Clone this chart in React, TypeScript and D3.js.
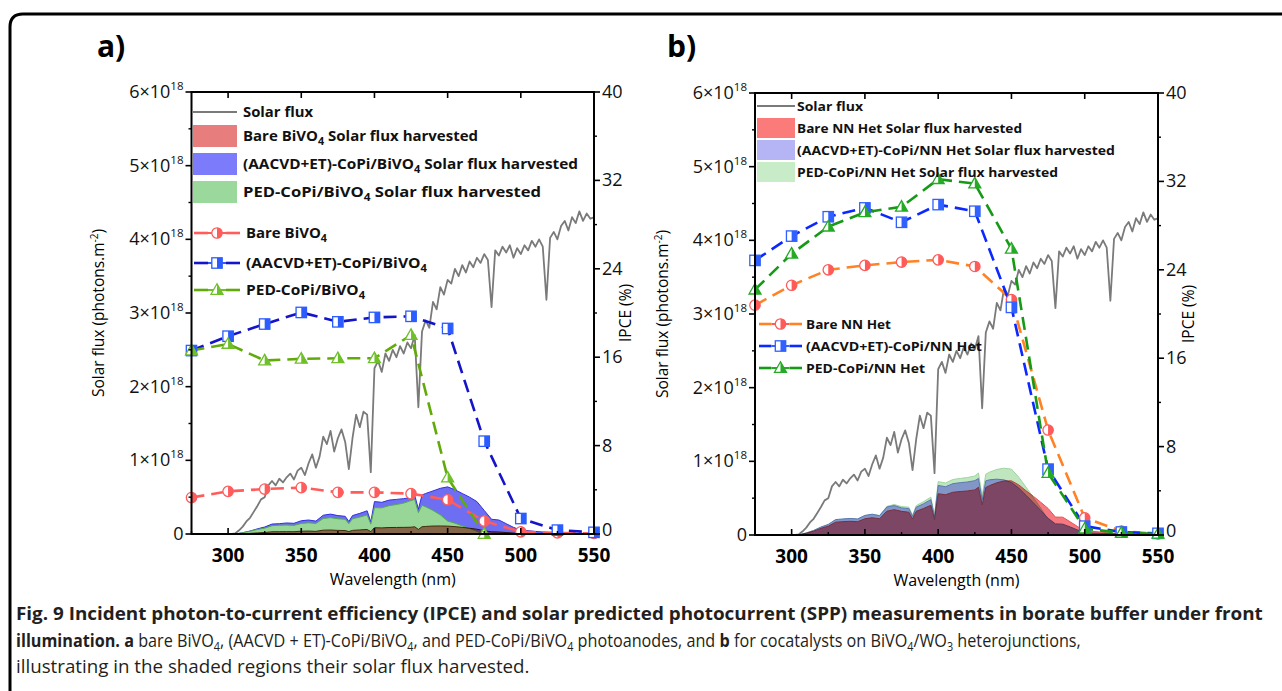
import React, { useLayoutEffect, useRef, useState } from "react";
import * as d3 from "d3";

type Pt = [number, number];

// ---------- DATA ----------
// Solar flux (x1e18 photons m^-2), sampled every 2.5 nm from 275 to 550 nm
const FLUX_START = 275;
const FLUX_STEP = 2.5;
const SOLAR_FLUX = [
  0, 0, 0, 0, 0, 0, 0, 0, 0, 0, 0, 0, 0.01, 0.05, 0.1, 0.17, 0.22, 0.3, 0.38, 0.47,
  0.5, 0.66, 0.72, 0.66, 0.75, 0.7, 0.77, 0.82, 0.74, 0.86, 0.9, 0.8, 0.96, 1.08, 0.9, 1.05,
  1.32, 1.22, 1.4, 1.12, 1.3, 1.42, 1.25, 0.88, 1.3, 1.62, 1.45, 1.66, 1.62, 0.84, 2.25, 2.35,
  2.2, 2.45, 2.35, 2.5, 2.4, 2.55, 2.45, 2.6, 2.52, 2.7, 1.72, 2.75, 2.9, 2.8, 3.15, 3.05,
  3.35, 3.25, 3.45, 3.4, 3.6, 3.5, 3.65, 3.55, 3.7, 3.62, 3.75, 3.68, 3.8, 3.72, 3.08, 3.85,
  3.78, 3.9, 3.82, 3.92, 3.75, 3.88, 3.8, 3.92, 3.85, 3.98, 3.9, 4.0, 3.9, 3.18, 4.02, 4.1,
  4.0, 4.18, 4.25, 4.12, 4.3, 4.22, 4.38, 4.25, 4.35, 4.28, 4.3,
];

// IPCE (%) measured points
const IPCE_WL = [275, 300, 325, 350, 375, 400, 425, 450, 475, 500, 525, 550];
const A_BARE = [3.3, 3.86, 4.07, 4.2, 3.77, 3.77, 3.65, 3.1, 1.17, 0.2, 0.1, 0.05];
const A_AACVD = [16.6, 17.9, 19.0, 20.05, 19.2, 19.6, 19.7, 18.6, 8.4, 1.4, 0.35, 0.15];
const A_PED = [16.6, 17.2, 15.7, 15.85, 15.9, 15.9, 18.0, 5.1, 0.0];
const B_BARE = [20.8, 22.6, 24.0, 24.4, 24.7, 24.9, 24.3, 21.3, 9.5, 1.55, 0.36, 0.1];
const B_AACVD = [24.85, 27.05, 28.8, 29.6, 28.3, 29.9, 29.3, 20.6, 5.96, 0.8, 0.27, 0.15];
const B_PED = [22.2, 25.45, 27.9, 29.2, 29.7, 32.2, 31.8, 25.9, 5.6, 0.57, 0.2, 0.1];

// Solar flux harvested (x1e18), [wavelength, value]
const A_HARV_AACVD: Pt[] = [
  [305, 0], [310, 0.018], [315, 0.04], [320, 0.07], [325, 0.095], [330, 0.135], [335, 0.14],
  [340, 0.15], [345, 0.145], [350, 0.18], [355, 0.19], [360, 0.175], [365, 0.255], [370, 0.27],
  [375, 0.25], [380, 0.24], [382.5, 0.17], [385, 0.25], [390, 0.28], [395, 0.315], [397.5, 0.165],
  [400, 0.44], [405, 0.43], [410, 0.46], [415, 0.47], [420, 0.48], [425, 0.495], [427.5, 0.53],
  [430, 0.335], [432.5, 0.53], [435, 0.55], [440, 0.585], [445, 0.62], [450, 0.64], [455, 0.6],
  [460, 0.55], [465, 0.5], [470, 0.44], [475, 0.32], [480, 0.2], [485, 0.19], [490, 0.14],
  [495, 0.09], [500, 0.053], [505, 0.045], [510, 0.035], [520, 0.02], [530, 0.012], [540, 0.006], [550, 0.004],
];
const A_HARV_PED: Pt[] = [
  [305, 0], [310, 0.017], [315, 0.037], [320, 0.062], [325, 0.079], [330, 0.113], [335, 0.118],
  [340, 0.121], [345, 0.117], [350, 0.143], [355, 0.152], [360, 0.143], [365, 0.21], [370, 0.222],
  [375, 0.207], [380, 0.2], [382.5, 0.14], [385, 0.207], [390, 0.23], [395, 0.258], [397.5, 0.134],
  [400, 0.358], [405, 0.355], [410, 0.385], [415, 0.4], [420, 0.42], [425, 0.454], [427.5, 0.47],
  [430, 0.29], [432.5, 0.39], [435, 0.37], [440, 0.32], [445, 0.26], [450, 0.176], [455, 0.147],
  [460, 0.11], [465, 0.075], [470, 0.038], [473, 0.01], [475, 0],
];
const A_HARV_BARE: Pt[] = [
  [305, 0], [310, 0.004], [315, 0.0085], [320, 0.015], [325, 0.02], [330, 0.03], [335, 0.031],
  [340, 0.032], [345, 0.031], [350, 0.038], [355, 0.04], [360, 0.036], [365, 0.052], [370, 0.054],
  [375, 0.049], [380, 0.047], [382.5, 0.033], [385, 0.049], [390, 0.055], [395, 0.061], [397.5, 0.032],
  [400, 0.085], [405, 0.083], [410, 0.088], [415, 0.089], [420, 0.09], [425, 0.092], [427.5, 0.098],
  [430, 0.062], [432.5, 0.098], [435, 0.103], [440, 0.108], [445, 0.109], [450, 0.107], [455, 0.1],
  [460, 0.09], [465, 0.078], [470, 0.065], [475, 0.044], [480, 0.03], [485, 0.027], [490, 0.02],
  [495, 0.013], [500, 0.008], [510, 0.004], [520, 0.002], [530, 0],
];
const B_HARV_PED: Pt[] = [
  [305, 0.003], [310, 0.026], [315, 0.059], [320, 0.104], [325, 0.14], [330, 0.203], [335, 0.213],
  [340, 0.221], [345, 0.214], [350, 0.263], [355, 0.281], [360, 0.265], [365, 0.389], [370, 0.414],
  [375, 0.386], [380, 0.378], [382.5, 0.268], [385, 0.399], [390, 0.452], [395, 0.514], [397.5, 0.268],
  [400, 0.725], [405, 0.706], [410, 0.753], [415, 0.768], [420, 0.78], [425, 0.801], [427.5, 0.842],
  [430, 0.527], [432.5, 0.825], [435, 0.853], [440, 0.89], [445, 0.907], [450, 0.894], [455, 0.785],
  [460, 0.648], [465, 0.506], [470, 0.363], [475, 0.213], [480, 0.142], [485, 0.135], [490, 0.099],
  [495, 0.059], [500, 0.022], [510, 0.016], [525, 0.008], [550, 0.004],
];
const B_HARV_AACVD: Pt[] = [
  [305, 0.003], [310, 0.028], [315, 0.062], [320, 0.108], [325, 0.144], [330, 0.209], [335, 0.218],
  [340, 0.225], [345, 0.218], [350, 0.266], [355, 0.282], [360, 0.262], [365, 0.38], [370, 0.4],
  [375, 0.368], [380, 0.358], [382.5, 0.253], [385, 0.376], [390, 0.424], [395, 0.48], [397.5, 0.25],
  [400, 0.673], [405, 0.655], [410, 0.697], [415, 0.71], [420, 0.72], [425, 0.738], [427.5, 0.767],
  [430, 0.474], [432.5, 0.735], [435, 0.749], [440, 0.758], [445, 0.748], [450, 0.711], [455, 0.636],
  [460, 0.538], [465, 0.437], [470, 0.333], [475, 0.226], [480, 0.151], [485, 0.147], [490, 0.11],
  [495, 0.069], [500, 0.03], [510, 0.023], [520, 0.015], [530, 0.011], [550, 0.006],
];
const B_HARV_BARE: Pt[] = [
  [305, 0.002], [310, 0.023], [315, 0.051], [320, 0.09], [325, 0.12], [330, 0.173], [335, 0.181],
  [340, 0.186], [345, 0.18], [350, 0.22], [355, 0.234], [360, 0.22], [365, 0.323], [370, 0.344],
  [375, 0.321], [380, 0.309], [382.5, 0.217], [385, 0.321], [390, 0.36], [395, 0.403], [397.5, 0.209],
  [400, 0.56], [405, 0.546], [410, 0.58], [415, 0.59], [420, 0.598], [425, 0.612], [427.5, 0.648],
  [430, 0.408], [432.5, 0.644], [435, 0.67], [440, 0.709], [445, 0.734], [450, 0.735], [455, 0.68],
  [460, 0.6], [465, 0.525], [470, 0.444], [475, 0.361], [480, 0.243], [485, 0.242], [490, 0.18],
  [495, 0.116], [500, 0.059], [505, 0.05], [510, 0.042], [515, 0.032], [520, 0.024], [525, 0.014],
  [535, 0.011], [550, 0.004],
];

// Axis ticks
const X_MAJOR = [300, 350, 400, 450, 500, 550];
const X_MINOR = [275, 325, 375, 425, 475, 525];
const YL_MAJOR = [0, 1, 2, 3, 4, 5, 6];
const YL_MINOR = [0.5, 1.5, 2.5, 3.5, 4.5, 5.5];
const YR_MAJOR = [0, 8, 16, 24, 32, 40];
const YR_MINOR = [4, 12, 20, 28, 36];

// Legend labels ("_4" = subscript 4)
const A_AREA_LABELS = [
  "Bare BiVO_4 Solar flux harvested",
  "(AACVD+ET)-CoPi/BiVO_4 Solar flux harvested",
  "PED-CoPi/BiVO_4 Solar flux harvested",
];
const A_LINE_LABELS = ["Bare BiVO_4", "(AACVD+ET)-CoPi/BiVO_4", "PED-CoPi/BiVO_4"];
const B_AREA_LABELS = [
  "Bare NN Het Solar flux harvested",
  "(AACVD+ET)-CoPi/NN Het Solar flux harvested",
  "PED-CoPi/NN Het Solar flux harvested",
];
const B_LINE_LABELS = ["Bare NN Het", "(AACVD+ET)-CoPi/NN Het", "PED-CoPi/NN Het"];

// ---------- HELPERS ----------
const AXIS_FONT = "'Open Sans', 'Noto Sans', sans-serif";

function Rich({ text, sub = 4 }: { text: string; sub?: number }) {
  const parts = text.split(/_(\d)/);
  return (
    <>
      {parts.map((p, i) =>
        i % 2 === 1 ? (
          <tspan key={i} dy={sub} fontSize="72%">
            {p}
          </tspan>
        ) : (
          <tspan key={i} dy={i > 0 ? -sub : 0}>
            {p}
          </tspan>
        )
      )}
    </>
  );
}

// Text horizontally scaled to a target width (measured after layout)
function FitText({ x, y, width, children, ...rest }: any) {
  const ref = useRef<SVGTextElement>(null);
  const [s, setS] = useState(1);
  useLayoutEffect(() => {
    if (ref.current) {
      const w = ref.current.getBBox().width;
      if (w > 0) setS(width / w);
    }
  }, [width]);
  return (
    <text ref={ref} transform={`translate(${x},${y}) scale(${s},1)`} x={0} y={0} {...rest}>
      {children}
    </text>
  );
}

function Marker({ kind, x, y, color }: { kind: string; x: number; y: number; color: string }) {
  const s = 5.2;
  if (kind === "circle") {
    return (
      <g>
        <circle cx={x} cy={y} r={s} fill="#fff" stroke={color} strokeWidth={1.3} />
        <path d={`M${x},${y - s}A${s},${s} 0 0 1 ${x},${y + s}Z`} fill={color} />
      </g>
    );
  }
  if (kind === "square") {
    return (
      <g>
        <rect x={x - s} y={y - s} width={2 * s} height={2 * s} fill="#fff" stroke={color} strokeWidth={1.3} />
        <rect x={x} y={y - s} width={s} height={2 * s} fill={color} />
      </g>
    );
  }
  const top = y - 6.2;
  const bot = y + 4.3;
  const hw = 6;
  return (
    <g>
      <path d={`M${x},${top}L${x + hw},${bot}L${x - hw},${bot}Z`} fill="#fff" stroke={color} strokeWidth={1.3} />
      <path d={`M${x},${top}L${x + hw},${bot}L${x},${bot}Z`} fill={color} />
    </g>
  );
}

interface Series {
  vals: number[];
  line: string;
  mark: string;
  kind: string;
}
interface AreaS {
  pts: Pt[];
  fill: string;
  stroke: string;
  blend?: boolean;
}
interface PanelCfg {
  x0: number;
  x1: number;
  yTop: number;
  yBot: number;
  label: string;
  labelX: number;
  areas: AreaS[];
  series: Series[];
  legendSwatch: string[];
  areaLabels: string[];
  lineLabels: string[];
  legFont: number;
  leg: {
    fluxY: number;
    swX: number;
    swW: number;
    txtX: number;
    fluxLen: number;
    areaY: number[];
    areaH: number;
    areaLen: number[];
    lineY: number[];
    lineSwX: number;
    lineSwW: number;
    lineTxtX: number;
    lineLen: number[];
  };
  yTitleX: number;
  rTitleX: number;
}

function Panel({ c }: { c: PanelCfg }) {
  const x = d3.scaleLinear().domain([275, 550]).range([c.x0, c.x1]);
  const yL = d3.scaleLinear().domain([0, 6]).range([c.yBot, c.yTop]);
  const yR = d3.scaleLinear().domain([0, 40]).range([c.yBot, c.yTop]);
  const area = d3
    .area<Pt>()
    .x((d) => x(d[0]))
    .y0(yL(0))
    .y1((d) => yL(d[1]));
  const topLine = d3
    .line<Pt>()
    .x((d) => x(d[0]))
    .y((d) => yL(d[1]));
  const fluxPts: Pt[] = SOLAR_FLUX.map((v, i) => [FLUX_START + FLUX_STEP * i, v]);
  const ipceLine = d3
    .line<Pt>()
    .x((d) => x(d[0]))
    .y((d) => yR(d[1]));
  const clipId = "clip-" + c.label.replace(")", "");
  const L = c.leg;
  const midY = (c.yTop + c.yBot) / 2;

  return (
    <g>
      <defs>
        <clipPath id={clipId}>
          <rect x={c.x0} y={c.yTop} width={c.x1 - c.x0} height={c.yBot - c.yTop} />
        </clipPath>
      </defs>
      <text x={c.labelX} y={57} fontFamily={AXIS_FONT} fontWeight={700} fontSize={30}>
        {c.label}
      </text>

      <g clipPath={`url(#${clipId})`}>
        {c.areas.map((a, i) => (
          <g key={i} style={a.blend ? { mixBlendMode: "multiply" } : undefined}>
            <path d={area(a.pts) || ""} fill={a.fill} />
            <path d={topLine(a.pts) || ""} fill="none" stroke={a.stroke} strokeWidth={1} />
          </g>
        ))}
        <path d={topLine(fluxPts) || ""} fill="none" stroke="#7a7a7a" strokeWidth={1.8} strokeLinejoin="round" />
        {c.series.map((s, i) => {
          const pts: Pt[] = s.vals.map((v, j) => [IPCE_WL[j], v]);
          return (
            <path
              key={i}
              d={ipceLine(pts) || ""}
              fill="none"
              stroke={s.line}
              strokeWidth={2.6}
              strokeDasharray="13 7"
            />
          );
        })}
      </g>
      {c.series.map((s, i) => (
        <g key={i}>
          {s.vals.map((v, j) => (
            <Marker key={j} kind={s.kind} x={x(IPCE_WL[j])} y={yR(v)} color={s.mark} />
          ))}
        </g>
      ))}

      {/* frame */}
      <rect x={c.x0} y={c.yTop} width={c.x1 - c.x0} height={c.yBot - c.yTop} fill="none" stroke="#000" strokeWidth={2} />

      {/* bottom axis */}
      {X_MAJOR.map((t) => (
        <g key={"xm" + t}>
          <line x1={x(t)} x2={x(t)} y1={c.yBot} y2={c.yBot - 6} stroke="#000" strokeWidth={1.6} />
          <line x1={x(t)} x2={x(t)} y1={c.yTop} y2={c.yTop + 6} stroke="#000" strokeWidth={1.6} />
          <text
            x={x(t)}
            y={c.yBot + 28}
            textAnchor="middle"
            fontFamily={AXIS_FONT}
            fontWeight={700}
            fontSize={19}
          >
            {t}
          </text>
        </g>
      ))}
      {X_MINOR.map((t) => (
        <line key={"xn" + t} x1={x(t)} x2={x(t)} y1={c.yBot} y2={c.yBot - 3} stroke="#000" strokeWidth={1.4} />
      ))}
      <text x={(c.x0 + c.x1) / 2} y={c.yBot + 51} textAnchor="middle" fontFamily={AXIS_FONT} fontSize={16}>
        Wavelength (nm)
      </text>

      {/* left axis */}
      {YL_MAJOR.map((t) => (
        <g key={"yl" + t}>
          <line x1={c.x0} x2={c.x0 - 6} y1={yL(t)} y2={yL(t)} stroke="#000" strokeWidth={1.6} />
          <text x={c.x0 - 8} y={yL(t) + 6} textAnchor="end" fontFamily={AXIS_FONT} fontSize={18} fill="#111">
            {t === 0 ? (
              "0"
            ) : (
              <>
                <tspan>{t}×10</tspan>
                <tspan dy={-8} fontSize={11.5}>
                  18
                </tspan>
              </>
            )}
          </text>
        </g>
      ))}
      {YL_MINOR.map((t) => (
        <line key={"yln" + t} x1={c.x0} x2={c.x0 - 3} y1={yL(t)} y2={yL(t)} stroke="#000" strokeWidth={1.4} />
      ))}
      <text
        transform={`translate(${c.yTitleX},${midY}) rotate(-90)`}
        textAnchor="middle"
        fontFamily={AXIS_FONT}
        fontSize={15.5}
      >
        <tspan>Solar flux (photons.m</tspan>
        <tspan dy={-6} fontSize={10}>
          -2
        </tspan>
        <tspan dy={6}>)</tspan>
      </text>

      {/* right axis */}
      {YR_MAJOR.map((t) => (
        <g key={"yr" + t}>
          <line x1={c.x1} x2={c.x1 + 6} y1={yR(t)} y2={yR(t)} stroke="#000" strokeWidth={1.6} />
          <text x={c.x1 + 8} y={yR(t) + (t === 0 ? 2 : 6)} fontFamily={AXIS_FONT} fontSize={18} fill="#111">
            {t}
          </text>
        </g>
      ))}
      {YR_MINOR.map((t) => (
        <line key={"yrn" + t} x1={c.x1} x2={c.x1 + 3} y1={yR(t)} y2={yR(t)} stroke="#000" strokeWidth={1.4} />
      ))}
      <text
        transform={`translate(${c.rTitleX},${midY}) rotate(-90)`}
        textAnchor="middle"
        fontFamily={AXIS_FONT}
        fontSize={15.5}
      >
        IPCE (%)
      </text>

      {/* legend */}
      <g fontFamily={AXIS_FONT} fontWeight={700} fontSize={c.legFont} fill="#111">
        <line x1={L.swX} x2={L.swX + L.swW} y1={L.fluxY} y2={L.fluxY} stroke="#7a7a7a" strokeWidth={2} />
        <text x={L.txtX} y={L.fluxY + 5} textLength={L.fluxLen} lengthAdjust="spacingAndGlyphs">
          Solar flux
        </text>
        {c.areaLabels.map((lab, i) => (
          <g key={"al" + i}>
            <rect x={L.swX} y={L.areaY[i] - L.areaH / 2} width={L.swW} height={L.areaH} fill={c.legendSwatch[i]} />
            <text x={L.txtX} y={L.areaY[i] + 5} textLength={L.areaLen[i]} lengthAdjust="spacingAndGlyphs">
              <Rich text={lab} />
            </text>
          </g>
        ))}
        {c.lineLabels.map((lab, i) => {
          const s = c.series[i];
          const y = L.lineY[i];
          const mx = L.lineSwX + L.lineSwW / 2;
          return (
            <g key={"ll" + i}>
              <line x1={L.lineSwX} x2={mx - 9} y1={y} y2={y} stroke={s.line} strokeWidth={2.6} />
              <line x1={mx + 9} x2={L.lineSwX + L.lineSwW} y1={y} y2={y} stroke={s.line} strokeWidth={2.6} />
              <line x1={mx - 9} x2={mx + 9} y1={y} y2={y} stroke={s.mark} strokeWidth={2} />
              <Marker kind={s.kind} x={mx} y={y} color={s.mark} />
              <text x={L.lineTxtX} y={y + 5} textLength={L.lineLen[i]} lengthAdjust="spacingAndGlyphs">
                <Rich text={lab} />
              </text>
            </g>
          );
        })}
      </g>
    </g>
  );
}

const PANEL_A: PanelCfg = {
  x0: 191.5,
  x1: 594,
  yTop: 92,
  yBot: 534,
  label: "a)",
  labelX: 97,
  areas: [
    { pts: A_HARV_AACVD, fill: "#6e6ef2", stroke: "#3030dd" },
    { pts: A_HARV_PED, fill: "#98d698", stroke: "#52aa52" },
    { pts: A_HARV_BARE, fill: "#e07a7a", stroke: "#6a3010", blend: true },
  ],
  series: [
    { vals: A_BARE, line: "#ff5c5c", mark: "#ff5c5c", kind: "circle" },
    { vals: A_AACVD, line: "#1414c8", mark: "#2b5cff", kind: "square" },
    { vals: A_PED, line: "#62aa0a", mark: "#6fbf2a", kind: "triangle" },
  ],
  legendSwatch: ["#e87d7d", "#7b7bfb", "#9bd89b"],
  areaLabels: A_AREA_LABELS,
  lineLabels: A_LINE_LABELS,
  legFont: 14,
  leg: {
    fluxY: 112,
    swX: 193,
    swW: 44,
    txtX: 243,
    fluxLen: 70,
    areaY: [136, 164, 192],
    areaH: 22,
    areaLen: [235, 335, 298],
    lineY: [233, 263, 290],
    lineSwX: 194,
    lineSwW: 46,
    lineTxtX: 246,
    lineLen: [81, 181, 119],
  },
  yTitleX: 104,
  rTitleX: 631,
};

const PANEL_B: PanelCfg = {
  x0: 755,
  x1: 1158,
  yTop: 93,
  yBot: 535,
  label: "b)",
  labelX: 667,
  areas: [
    { pts: B_HARV_PED, fill: "#bfe6bf", stroke: "#9fd49f" },
    { pts: B_HARV_AACVD, fill: "#8296c8", stroke: "#5a78b0" },
    { pts: B_HARV_BARE, fill: "#f5777f", stroke: "#e85050", blend: true },
  ],
  series: [
    { vals: B_BARE, line: "#ff8224", mark: "#ff5a5a", kind: "circle" },
    { vals: B_AACVD, line: "#0a28ff", mark: "#3060ff", kind: "square" },
    { vals: B_PED, line: "#169a16", mark: "#25aa25", kind: "triangle" },
  ],
  legendSwatch: ["#fb7b7b", "#b5b5f5", "#c8ebc8"],
  areaLabels: B_AREA_LABELS,
  lineLabels: B_LINE_LABELS,
  legFont: 13,
  leg: {
    fluxY: 106,
    swX: 757,
    swW: 38,
    txtX: 797,
    fluxLen: 66,
    areaY: [128, 150, 172],
    areaH: 20,
    areaLen: [225, 318, 261],
    lineY: [324, 346, 368],
    lineSwX: 759,
    lineSwW: 43,
    lineTxtX: 806,
    lineLen: [85, 176, 119],
  },
  yTitleX: 668,
  rTitleX: 1194,
};

const CAP_FONT = "'Open Sans', 'Noto Sans', sans-serif";

export default function App() {
  return (
    <svg
      width={1282}
      height={691}
      style={{ position: "fixed", left: 0, top: 0, background: "#fff" }}
      xmlns="http://www.w3.org/2000/svg"
    >
      <rect x={0} y={0} width={1282} height={691} fill="#fff" />
      <path d="M1300,14 H23 Q10,14 10,27 V710" fill="none" stroke="#000" strokeWidth={3} />
      <Panel c={PANEL_A} />
      <Panel c={PANEL_B} />
      <g fontFamily={CAP_FONT} fontSize={18} fill="#231f20">
        <FitText x={16} y={620} width={1248} fontWeight={700}>
          Fig. 9 Incident photon-to-current efficiency (IPCE) and solar predicted photocurrent (SPP) measurements in
          borate buffer under front
        </FitText>
        <FitText x={16} y={647} width={1066}>
          <tspan fontWeight={700}>illumination.</tspan>
          <tspan fontWeight={700}>{"  a"}</tspan>
          <tspan> bare BiVO</tspan>
          <tspan dy={4} fontSize={12}>4</tspan>
          <tspan dy={-4}>, (AACVD + ET)-CoPi/BiVO</tspan>
          <tspan dy={4} fontSize={12}>4</tspan>
          <tspan dy={-4}>, and PED-CoPi/BiVO</tspan>
          <tspan dy={4} fontSize={12}>4</tspan>
          <tspan dy={-4}> photoanodes, and </tspan>
          <tspan fontWeight={700}>b</tspan>
          <tspan> for cocatalysts on BiVO</tspan>
          <tspan dy={4} fontSize={12}>4</tspan>
          <tspan dy={-4}>/WO</tspan>
          <tspan dy={4} fontSize={12}>3</tspan>
          <tspan dy={-4}> heterojunctions,</tspan>
        </FitText>
        <FitText x={16} y={673} width={514}>
          illustrating in the shaded regions their solar flux harvested.
        </FitText>
      </g>
    </svg>
  );
}
